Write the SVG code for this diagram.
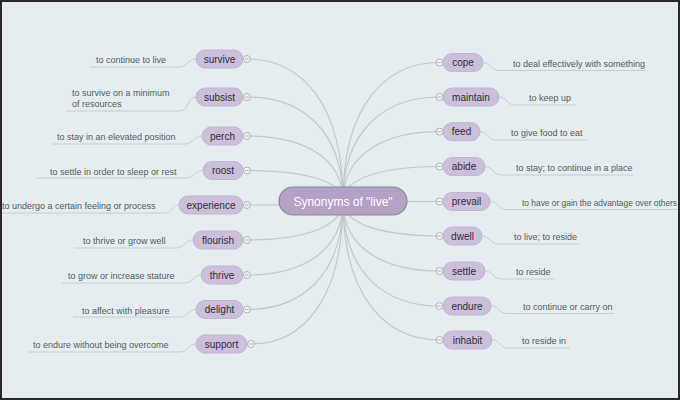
<svg xmlns="http://www.w3.org/2000/svg" width="680" height="400" viewBox="0 0 680 400">
<defs>
<style>
.bg{fill:#e5edf0}
.edge{fill:none;stroke:#c3c8cb;stroke-width:1.2}
.ul{fill:none;stroke:#c8cdd0;stroke-width:1}
.pill{fill:#cbbfda;stroke:#c2b6d2;stroke-width:1}
.root{fill:#b5a0c8;stroke:#8a8a8e;stroke-width:1.2}
.nt{font-family:"Liberation Sans","DejaVu Sans",sans-serif;font-size:10px;fill:#2e2e3a;text-anchor:middle}
.rt{font-family:"Liberation Sans","DejaVu Sans",sans-serif;font-size:12px;fill:#ffffff;text-anchor:middle}
.dt{font-family:"Liberation Sans","DejaVu Sans",sans-serif;font-size:9px;fill:#555a60}
.knob{fill:#f2f4f5;stroke:#b0b4b8;stroke-width:1}
.minus{stroke:#b0b4b8;stroke-width:1}
</style>
</defs>
<rect class="bg" x="0" y="0" width="680" height="400"/>

<g id="connectors">
<path class="edge" d="M247,59 C300,59 343,101.6 343,201"/>
<path class="edge" d="M247,97 C300,97 343,128.2 343,201"/>
<path class="edge" d="M247,136 C300,136 343,155.5 343,201"/>
<path class="edge" d="M247,170.5 C300,170.5 343,179.7 343,201"/>
<path class="edge" d="M247,205 C300,205 343,203.8 343,201"/>
<path class="edge" d="M247,240 C300,240 343,228.3 343,201"/>
<path class="edge" d="M247,275 C300,275 343,252.8 343,201"/>
<path class="edge" d="M247,309.5 C300,309.5 343,276.9 343,201"/>
<path class="edge" d="M251,344 C301.6,344 343,301.1 343,201"/>
<path class="edge" d="M439.5,62.5 C386.5,62.5 343,104 343,201"/>
<path class="edge" d="M439.5,97 C386.5,97 343,128.2 343,201"/>
<path class="edge" d="M439.5,131.7 C386.5,131.7 343,152.5 343,201"/>
<path class="edge" d="M439.5,166.5 C386.5,166.5 343,176.9 343,201"/>
<path class="edge" d="M439.5,201.5 C386.5,201.5 343,201.3 343,201"/>
<path class="edge" d="M439.5,236 C386.5,236 343,225.5 343,201"/>
<path class="edge" d="M439.5,271 C386.5,271 343,250 343,201"/>
<path class="edge" d="M439.5,306 C386.5,306 343,274.5 343,201"/>
<path class="edge" d="M439.5,340 C386.5,340 343,298.3 343,201"/>
<path class="ul" d="M196,59 C188,59 187,67 179,67 L90,67"/>
<path class="ul" d="M196,97 C186,97 190,111 180,111 L66,111"/>
<path class="ul" d="M202,136 C194,136 193,144 185,144 L52,144"/>
<path class="ul" d="M203,170.5 C195,170.5 194,178 186,178 L36,178"/>
<path class="ul" d="M179,205 C171,205 173,213 165,213 L0,213"/>
<path class="ul" d="M193,240 C185,240 184,248 176,248 L74,248"/>
<path class="ul" d="M201,275 C193,275 193,283 185,283 L62,283"/>
<path class="ul" d="M196,309.5 C188,309.5 188,317 180,317 L73,317"/>
<path class="ul" d="M196,344 C188,344 188,352 180,352 L28,352"/>
<path class="ul" d="M483,62.5 C491,62.5 491,70.5 499,70.5 L646,70.5"/>
<path class="ul" d="M499,97 C507,97 507,105 515,105 L576,105"/>
<path class="ul" d="M480,131.7 C488,131.7 488,140 496,140 L588,140"/>
<path class="ul" d="M485,166.5 C493,166.5 493,175 501,175 L633,175"/>
<path class="ul" d="M490,201.5 C498,201.5 498,209.5 506,209.5 L680,209.5"/>
<path class="ul" d="M482,236 C490,236 490,244 498,244 L580,244"/>
<path class="ul" d="M485,271 C493,271 493,279 501,279 L555,279"/>
<path class="ul" d="M491,306 C499,306 499,313.5 507,313.5 L614,313.5"/>
<path class="ul" d="M492,340 C500,340 500,348 508,348 L570,348"/>
</g>

<g id="root">
<rect class="root" x="279" y="187" width="128" height="28" rx="14"/>
<text class="rt" x="343" y="205.5">Synonyms of "live"</text>
</g>

<g id="n-survive"><rect class="pill" x="196" y="50" width="47" height="18" rx="9"/><text class="nt" x="219.5" y="62.5">survive</text><circle class="knob" cx="247" cy="59" r="3.5"/><line class="minus" x1="245" y1="59" x2="249" y2="59"/><text class="dt" x="96" y="63">to continue to live</text></g>
<g id="n-subsist"><rect class="pill" x="196" y="88" width="47" height="18" rx="9"/><text class="nt" x="219.5" y="100.5">subsist</text><circle class="knob" cx="247" cy="97" r="3.5"/><line class="minus" x1="245" y1="97" x2="249" y2="97"/><text class="dt" x="72" y="95.5">to survive on a minimum</text><text class="dt" x="72" y="106.5">of resources</text></g>
<g id="n-perch"><rect class="pill" x="202" y="127" width="41" height="18" rx="9"/><text class="nt" x="222.5" y="139.5">perch</text><circle class="knob" cx="247" cy="136" r="3.5"/><line class="minus" x1="245" y1="136" x2="249" y2="136"/><text class="dt" x="57" y="140">to stay in an elevated position</text></g>
<g id="n-roost"><rect class="pill" x="203" y="161.5" width="40" height="18" rx="9"/><text class="nt" x="223" y="174">roost</text><circle class="knob" cx="247" cy="170.5" r="3.5"/><line class="minus" x1="245" y1="170.5" x2="249" y2="170.5"/><text class="dt" x="50" y="174.5">to settle in order to sleep or rest</text></g>
<g id="n-experience"><rect class="pill" x="179" y="196" width="64" height="18" rx="9"/><text class="nt" x="211" y="208.5">experience</text><circle class="knob" cx="247" cy="205" r="3.5"/><line class="minus" x1="245" y1="205" x2="249" y2="205"/><text class="dt" x="2" y="209">to undergo a certain feeling or process</text></g>
<g id="n-flourish"><rect class="pill" x="193" y="231" width="50" height="18" rx="9"/><text class="nt" x="218" y="243.5">flourish</text><circle class="knob" cx="247" cy="240" r="3.5"/><line class="minus" x1="245" y1="240" x2="249" y2="240"/><text class="dt" x="83" y="244">to thrive or grow well</text></g>
<g id="n-thrive"><rect class="pill" x="201" y="266" width="42" height="18" rx="9"/><text class="nt" x="222" y="278.5">thrive</text><circle class="knob" cx="247" cy="275" r="3.5"/><line class="minus" x1="245" y1="275" x2="249" y2="275"/><text class="dt" x="68" y="279">to grow or increase stature</text></g>
<g id="n-delight"><rect class="pill" x="196" y="300.5" width="47" height="18" rx="9"/><text class="nt" x="219.5" y="313">delight</text><circle class="knob" cx="247" cy="309.5" r="3.5"/><line class="minus" x1="245" y1="309.5" x2="249" y2="309.5"/><text class="dt" x="82" y="313.5">to affect with pleasure</text></g>
<g id="n-support"><rect class="pill" x="196" y="335" width="51" height="18" rx="9"/><text class="nt" x="221.5" y="347.5">support</text><circle class="knob" cx="251" cy="344" r="3.5"/><line class="minus" x1="249" y1="344" x2="253" y2="344"/><text class="dt" x="33" y="348">to endure without being overcome</text></g>

<g id="n-cope"><rect class="pill" x="443" y="53.5" width="40" height="18" rx="9"/><text class="nt" x="463" y="66">cope</text><circle class="knob" cx="439.5" cy="62.5" r="3.5"/><line class="minus" x1="437.5" y1="62.5" x2="441.5" y2="62.5"/><text class="dt" x="513" y="66.5">to deal effectively with something</text></g>
<g id="n-maintain"><rect class="pill" x="443" y="88" width="56" height="18" rx="9"/><text class="nt" x="471" y="100.5">maintain</text><circle class="knob" cx="439.5" cy="97" r="3.5"/><line class="minus" x1="437.5" y1="97" x2="441.5" y2="97"/><text class="dt" x="529" y="101">to keep up</text></g>
<g id="n-feed"><rect class="pill" x="443" y="122.7" width="37" height="18" rx="9"/><text class="nt" x="461.5" y="135.2">feed</text><circle class="knob" cx="439.5" cy="131.7" r="3.5"/><line class="minus" x1="437.5" y1="131.7" x2="441.5" y2="131.7"/><text class="dt" x="511" y="135.7">to give food to eat</text></g>
<g id="n-abide"><rect class="pill" x="443" y="157.5" width="42" height="18" rx="9"/><text class="nt" x="464" y="170">abide</text><circle class="knob" cx="439.5" cy="166.5" r="3.5"/><line class="minus" x1="437.5" y1="166.5" x2="441.5" y2="166.5"/><text class="dt" x="516" y="170.5">to stay; to continue in a place</text></g>
<g id="n-prevail"><rect class="pill" x="443" y="192.5" width="47" height="18" rx="9"/><text class="nt" x="466.5" y="205">prevail</text><circle class="knob" cx="439.5" cy="201.5" r="3.5"/><line class="minus" x1="437.5" y1="201.5" x2="441.5" y2="201.5"/><text class="dt" x="522" y="205.5" style="font-size:8.4px">to have or gain the advantage over others</text></g>
<g id="n-dwell"><rect class="pill" x="443" y="227" width="39" height="18" rx="9"/><text class="nt" x="462.5" y="239.5">dwell</text><circle class="knob" cx="439.5" cy="236" r="3.5"/><line class="minus" x1="437.5" y1="236" x2="441.5" y2="236"/><text class="dt" x="514" y="240">to live; to reside</text></g>
<g id="n-settle"><rect class="pill" x="443" y="262" width="42" height="18" rx="9"/><text class="nt" x="464" y="274.5">settle</text><circle class="knob" cx="439.5" cy="271" r="3.5"/><line class="minus" x1="437.5" y1="271" x2="441.5" y2="271"/><text class="dt" x="516" y="275">to reside</text></g>
<g id="n-endure"><rect class="pill" x="443" y="297" width="48" height="18" rx="9"/><text class="nt" x="467" y="309.5">endure</text><circle class="knob" cx="439.5" cy="306" r="3.5"/><line class="minus" x1="437.5" y1="306" x2="441.5" y2="306"/><text class="dt" x="523" y="310">to continue or carry on</text></g>
<g id="n-inhabit"><rect class="pill" x="443" y="331" width="49" height="18" rx="9"/><text class="nt" x="467.5" y="343.5">inhabit</text><circle class="knob" cx="439.5" cy="340" r="3.5"/><line class="minus" x1="437.5" y1="340" x2="441.5" y2="340"/><text class="dt" x="522" y="344">to reside in</text></g>

<rect x="1" y="1" width="678" height="398" fill="none" stroke="#2a2a2a" stroke-width="2"/>
</svg>
